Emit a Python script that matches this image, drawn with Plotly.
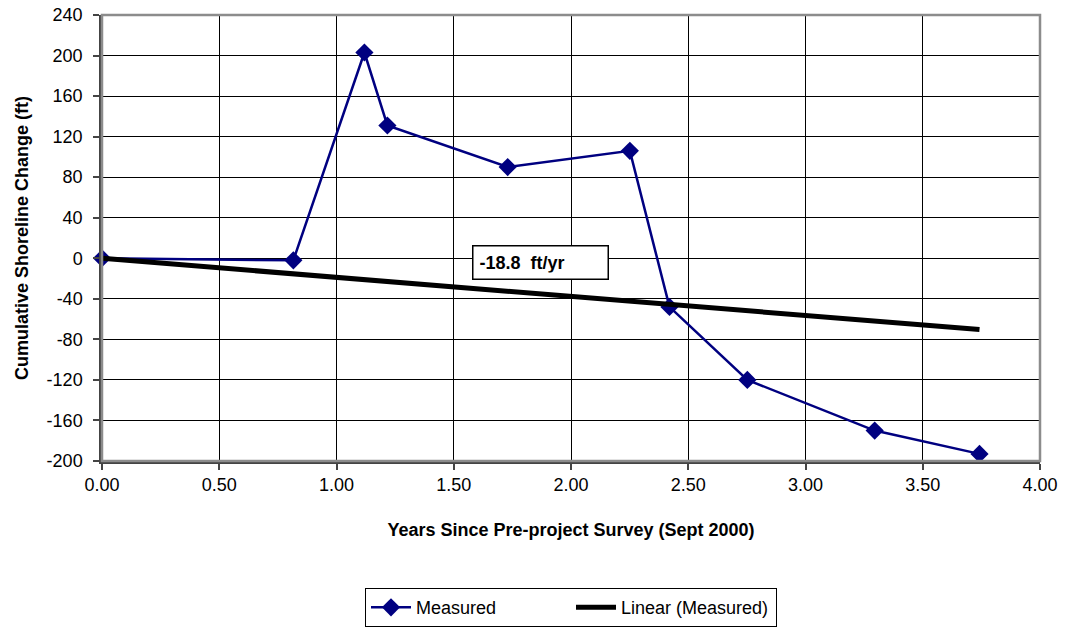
import plotly.graph_objects as go

years = [0.0, 0.816, 1.119, 1.217, 1.73, 2.251, 2.42, 2.752, 3.295, 3.742]
change = [0, -2, 203, 131, 90, 106, -48, -120, -170, -193]
trend_slope = -18.8  # ft/yr, trendline through origin
trend_label = "-18.8  ft/yr"

x_ticks = [0, 0.5, 1.0, 1.5, 2.0, 2.5, 3.0, 3.5, 4.0]
y_ticks = [240, 200, 160, 120, 80, 40, 0, -40, -80, -120, -160, -200]

FONT = "Arial, Liberation Sans, sans-serif"

trend_x = [years[0], years[-1]]
trend_y = [trend_slope * v for v in trend_x]

fig = go.Figure()
fig.add_trace(go.Scatter(
    x=years, y=change, mode="lines+markers", name="Measured",
    line=dict(color="#000080", width=2.5),
    marker=dict(symbol="diamond", size=14, color="#000080"),
    cliponaxis=False,
))
fig.add_trace(go.Scatter(
    x=trend_x, y=trend_y, mode="lines", name="Linear (Measured)",
    line=dict(color="black", width=5),
))

fig.add_annotation(
    x=1.578, y=-4, xref="x", yref="y", text="<b>" + trend_label + "</b>",
    showarrow=False, xanchor="left", yanchor="middle",
    font=dict(family=FONT, size=18, color="black"),
    bgcolor="white", bordercolor="black", borderwidth=1.5, borderpad=6,
    width=122, align="left",
)

# y-axis title placed as rotated text left of the tick labels
fig.add_annotation(
    x=0, y=0.5, xref="paper", yref="paper", xshift=-80,
    text="<b>Cumulative Shoreline Change (ft)</b>", textangle=-90,
    showarrow=False, xanchor="center", yanchor="middle",
    font=dict(family=FONT, size=18, color="black"),
)

fig.add_shape(type="rect", xref="paper", yref="paper", x0=0, y0=0, x1=1, y1=1,
              line=dict(color="#8c8c8c", width=2.5), layer="above")

fig.update_layout(
    width=1068, height=627,
    margin=dict(l=102, r=28, t=15, b=166, autoexpand=False),
    paper_bgcolor="white", plot_bgcolor="white",
    font=dict(family=FONT, size=18, color="black"),
    showlegend=True,
    legend=dict(
        orientation="h", x=0.5, xanchor="center", y=-0.285, yanchor="top",
        bordercolor="black", borderwidth=1, font=dict(family=FONT, size=18),
        itemwidth=40, tracegroupgap=0, entrywidth=150, entrywidthmode="pixels",
    ),
    xaxis=dict(
        range=[0, 4], tickvals=x_ticks, ticktext=[f"{v:.2f}" for v in x_ticks],
        showgrid=True, gridcolor="black", gridwidth=1, zeroline=False,
        showline=True, linecolor="#444444", linewidth=2.5,
        ticks="outside", ticklen=6, tickcolor="#444444", tickwidth=1.5,
        title=dict(text="<b>Years Since Pre-project Survey (Sept 2000)</b>",
                   font=dict(family=FONT, size=18), standoff=30),
        tickfont=dict(size=18), automargin=False,
    ),
    yaxis=dict(
        range=[-200, 240], tickvals=y_ticks, ticktext=[str(v) for v in y_ticks],
        showgrid=True, gridcolor="black", gridwidth=1, zeroline=False,
        showline=True, linecolor="#444444", linewidth=2.5,
        ticks="outside", ticklen=6, tickcolor="#444444", tickwidth=1.5,
        ticklabelstandoff=7,
        tickfont=dict(size=18), automargin=False,
    ),
)

fig.write_html("out.html", config={"displayModeBar": False},
               post_script="document.body.style.margin='0';document.body.style.overflow='hidden';")
